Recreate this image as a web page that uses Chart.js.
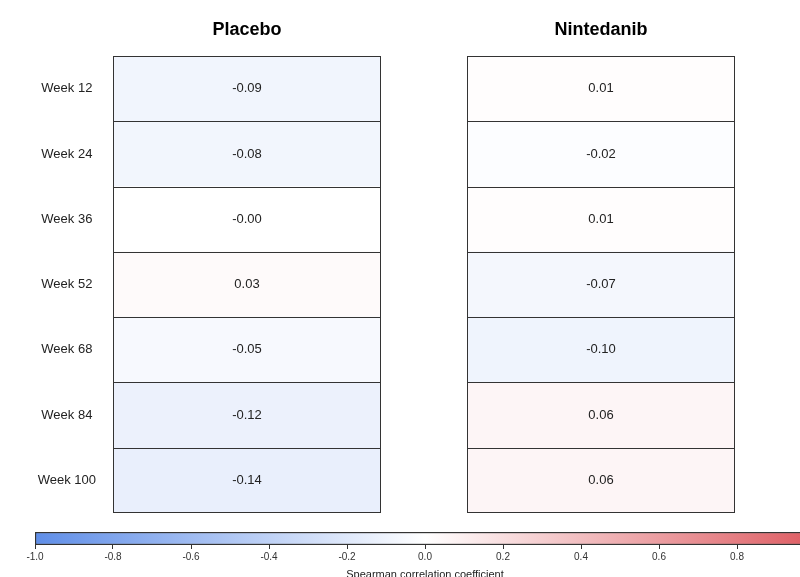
<!DOCTYPE html>
<html>
<head>
<meta charset="utf-8">
<script src="https://cdn.jsdelivr.net/npm/chart.js@4/dist/chart.umd.min.js"></script>
<style>
  html, body { margin: 0; padding: 0; background: #fff; overflow: hidden; width: 800px; height: 577px; }
  canvas { position: absolute; }
</style>
</head>
<body>
<canvas id="placebo" style="left:0;top:0" width="400" height="545"></canvas>
<canvas id="nintedanib" style="left:400px;top:0" width="400" height="545"></canvas>
<canvas id="colorbar" style="left:0;top:520px" width="830" height="60"></canvas>
<script>
/* ========== データ ========== */
const weeks = ["Week 12", "Week 24", "Week 36", "Week 52", "Week 68", "Week 84", "Week 100"];
const placebo = [-0.09, -0.08, -0.003, 0.03, -0.05, -0.12, -0.14];
const nintedanib = [0.01, -0.02, 0.01, -0.07, -0.10, 0.06, 0.06];

const cbStops = [-1, 0, 1];
const cbColors = [[95, 142, 232], [255, 255, 255], [222, 92, 98]];
const cbTicks = [-1.0, -0.8, -0.6, -0.4, -0.2, 0.0, 0.2, 0.4, 0.6, 0.8, 1.0];

const FONT = "'Liberation Sans', Helvetica, Arial, sans-serif";

/* ========== 色 ========== */
function colorFor(v) {
  let i = v < 0 ? 0 : 1;
  const t = (v - cbStops[i]) / (cbStops[i + 1] - cbStops[i]);
  const a = cbColors[i], b = cbColors[i + 1];
  const c = a.map((x, k) => Math.round(x + (b[k] - x) * t));
  return `rgb(${c[0]},${c[1]},${c[2]})`;
}

/* セルの数値 + 区切り線 + パネル枠 + タイトル */
const cellPlugin = {
  id: "cells",
  afterDatasetsDraw(chart) {
    const ctx = chart.ctx;
    const vals = chart.options.plugins.cells.values;
    const meta = chart.getDatasetMeta(0);
    const a = chart.chartArea;
    const ys = chart.scales.y;
    ctx.save();

    // 行の区切り
    ctx.strokeStyle = "#333";
    ctx.lineWidth = 1;
    ctx.beginPath();
    for (let i = 1; i < vals.length; i++) {
      const y = Math.round((ys.getPixelForValue(i - 1) + ys.getPixelForValue(i)) / 2) + 0.5;
      ctx.moveTo(a.left, y);
      ctx.lineTo(a.right, y);
    }
    ctx.stroke();
    ctx.strokeRect(Math.round(a.left) + 0.5, Math.round(a.top) + 0.5,
      Math.round(a.right - a.left) - 1, Math.round(a.bottom - a.top) - 1);

    ctx.font = "13px " + FONT;
    ctx.fillStyle = "#222";
    ctx.textAlign = "center";
    ctx.textBaseline = "middle";
    meta.data.forEach((el, i) => {
      ctx.fillText(vals[i].toFixed(2), (el.x + el.base) / 2, el.y);
    });

    ctx.font = "bold 18px " + FONT;
    ctx.fillStyle = "#000";
    ctx.fillText(chart.options.plugins.cells.title, (a.left + a.right) / 2, 30);
    ctx.restore();
  }
};

function heatmap(id, title, values, showLabels, padLeft, padRight) {
  new Chart(document.getElementById(id), {
    type: "bar",
    data: {
      labels: weeks,
      datasets: [{
        data: values.map(() => 1),
        backgroundColor: values.map(colorFor),
        borderWidth: 0,
        barPercentage: 1,
        categoryPercentage: 1
      }]
    },
    options: {
      indexAxis: "y",
      responsive: false,
      animation: false,
      layout: { padding: { left: padLeft, right: padRight, top: 56, bottom: 32 } },
      plugins: {
        legend: { display: false },
        tooltip: { enabled: false },
        cells: { values, title }
      },
      scales: {
        x: { display: false, min: 0, max: 1 },
        y: {
          display: true,
          grid: { display: false },
          border: { display: false },
          afterFit: s => { s.width = showLabels ? 113 : 0; },
          ticks: {
            display: showLabels,
            crossAlign: "center",
            padding: 9,
            color: "#222",
            font: { family: FONT, size: 13 }
          }
        }
      }
    },
    plugins: [cellPlugin]
  });
}

heatmap("placebo", "Placebo", placebo, true, 0, 19);
heatmap("nintedanib", "Nintedanib", nintedanib, false, 67, 65);

/* ========== カラーバー ========== */
new Chart(document.getElementById("colorbar"), {
  type: "bar",
  data: {
    labels: [""],
    datasets: [{
      data: [[cbStops[0], cbStops[cbStops.length - 1]]],
      backgroundColor: c => {
        const ch = c.chart;
        if (!ch.chartArea) return "#fff";
        const xs = ch.scales.x;
        const g = ch.ctx.createLinearGradient(xs.getPixelForValue(-1), 0, xs.getPixelForValue(1), 0);
        cbStops.forEach(s => g.addColorStop((s + 1) / 2, colorFor(s)));
        return g;
      },
      borderColor: "#333",
      borderWidth: 1.5,
      borderSkipped: false,
      barPercentage: 1,
      categoryPercentage: 1
    }]
  },
  options: {
    indexAxis: "y",
    responsive: false,
    animation: false,
    layout: { padding: { left: 35, right: 15, top: 12, bottom: 0 } },
    plugins: { legend: { display: false }, tooltip: { enabled: false } },
    scales: {
      y: { display: false },
      x: {
        min: -1, max: 1,
        afterFit: s => { s.height = 35; },
        afterBuildTicks: s => { s.ticks = cbTicks.map(v => ({ value: v })); },
        grid: { drawOnChartArea: false, drawTicks: true, tickLength: 4, color: "#333" },
        border: { display: false },
        ticks: {
          autoSkip: false,
          maxRotation: 0,
          padding: 2,
          color: "#333",
          font: { family: FONT, size: 10 },
          callback: v => (Math.round(v * 10) / 10).toFixed(1)
        },
        title: {
          display: true,
          text: "Spearman correlation coefficient",
          color: "#222",
          padding: 0,
          font: { family: FONT, size: 11, lineHeight: 1 }
        }
      }
    }
  }
});
</script>
</body>
</html>
